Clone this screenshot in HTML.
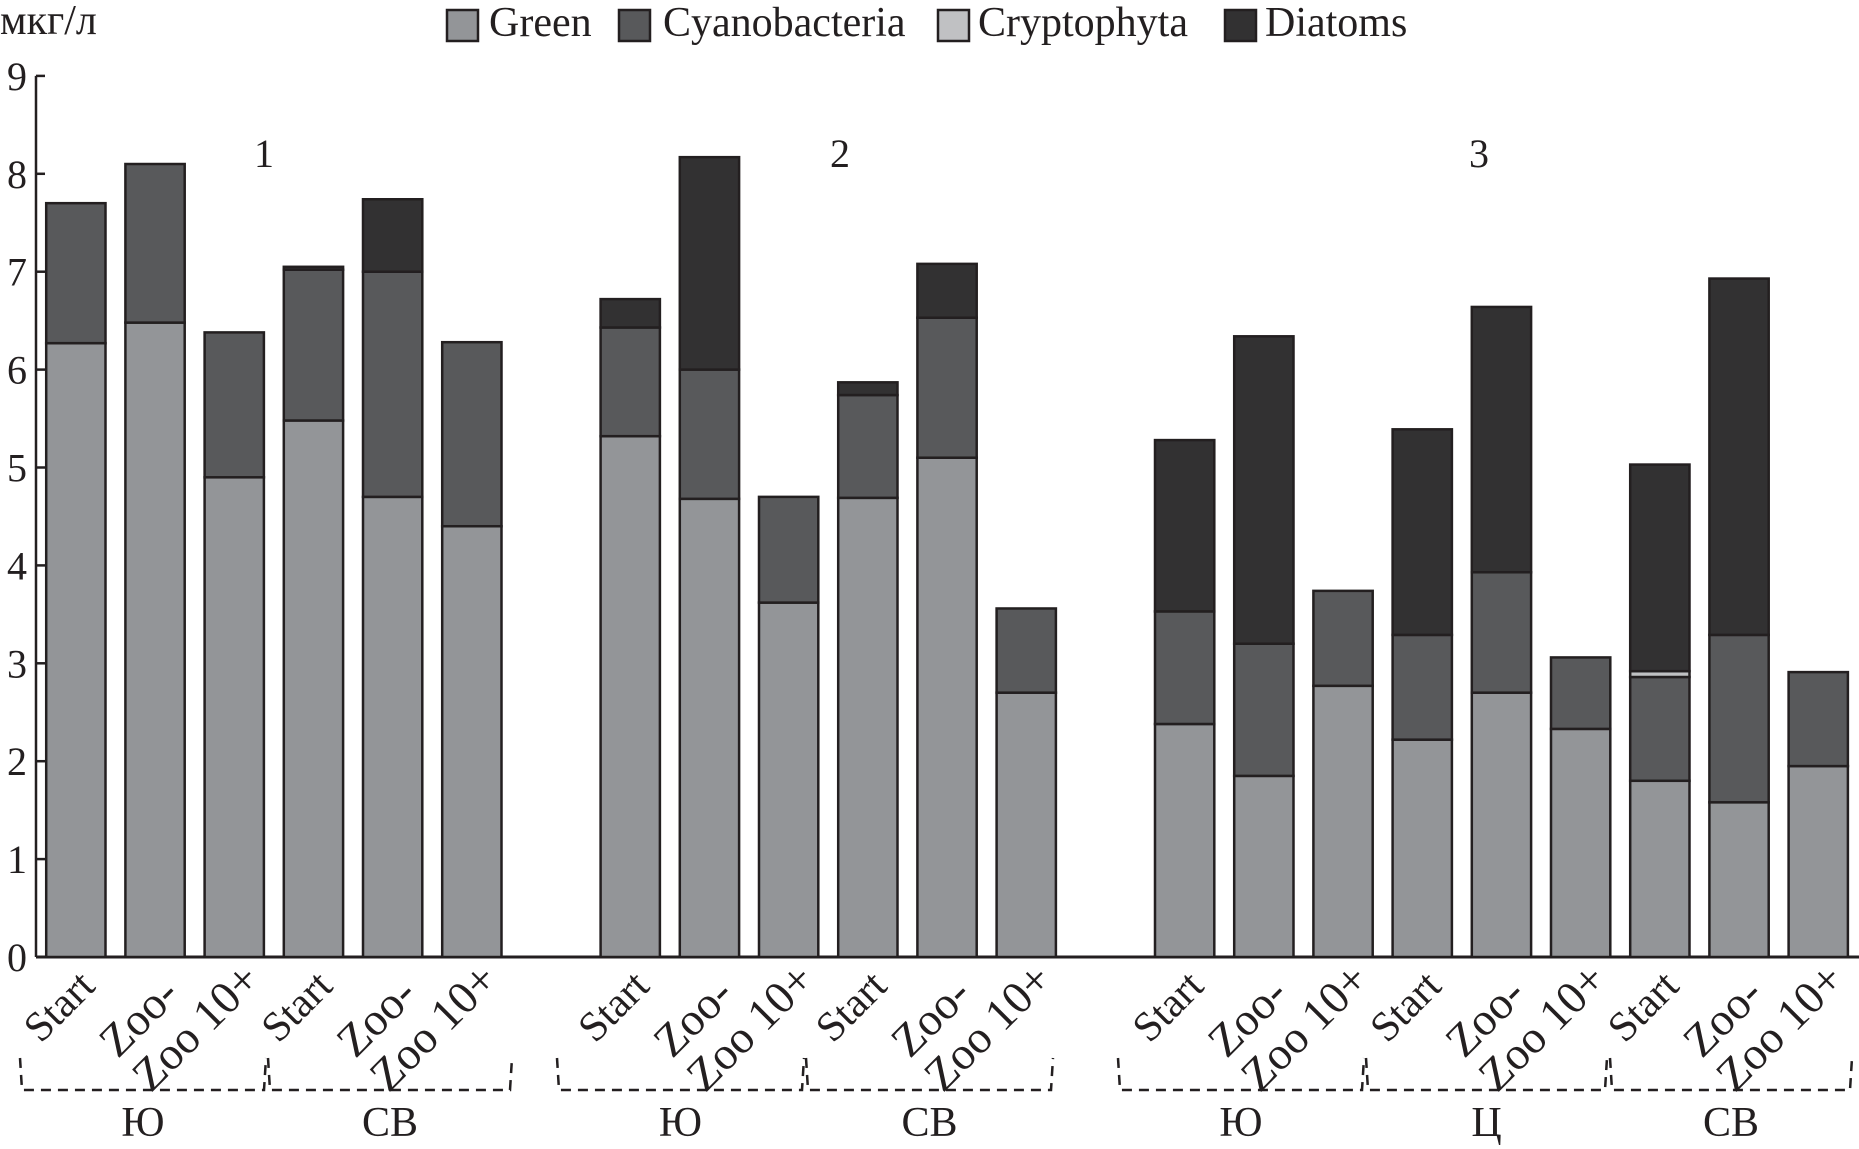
<!DOCTYPE html>
<html><head><meta charset="utf-8"><style>
html,body{margin:0;padding:0;background:#fff;}
svg{display:block;font-family:"Liberation Serif","DejaVu Serif",serif;}
</style></head><body>
<svg id="chart" width="1859" height="1149" viewBox="0 0 1859 1149" xmlns="http://www.w3.org/2000/svg">
<text x="0" y="34" font-size="42" fill="#231f20">мкг/л</text>
<g>
<g><rect x="447" y="10" width="31" height="31" fill="#939598" stroke="#231f20" stroke-width="2.5"/><text x="489" y="36" font-size="42" fill="#231f20">Green</text></g>
<g><rect x="619" y="10" width="31" height="31" fill="#58595b" stroke="#231f20" stroke-width="2.5"/><text x="663" y="36" font-size="42" fill="#231f20">Cyanobacteria</text></g>
<g><rect x="938" y="10" width="31" height="31" fill="#c0c1c3" stroke="#231f20" stroke-width="2.5"/><text x="978" y="36" font-size="42" fill="#231f20">Cryptophyta</text></g>
<g><rect x="1225" y="10" width="31" height="31" fill="#323132" stroke="#231f20" stroke-width="2.5"/><text x="1265" y="36" font-size="42" fill="#231f20">Diatoms</text></g>
</g>
<text x="264" y="167" font-size="40" fill="#231f20" text-anchor="middle">1</text>
<text x="840" y="167" font-size="40" fill="#231f20" text-anchor="middle">2</text>
<text x="1479" y="167" font-size="40" fill="#231f20" text-anchor="middle">3</text>
<g id="axes"></g>
<g id="bars"></g>
<g id="xlabels"></g>
<g id="groups"></g>
</svg>
<script>
const categories = ["Start","Zoo-","Zoo 10+","Start","Zoo-","Zoo 10+","Start","Zoo-","Zoo 10+","Start","Zoo-","Zoo 10+","Start","Zoo-","Zoo 10+","Start","Zoo-","Zoo 10+","Start","Zoo-","Zoo 10+"];
const slots = [0,1,2,3,4,5,7,8,9,10,11,12,14,15,16,17,18,19,20,21,22];
const green = [6.27,6.48,4.9,5.48,4.7,4.4, 5.32,4.68,3.62,4.69,5.1,2.7, 2.38,1.85,2.77,2.22,2.7,2.33,1.8,1.58,1.95];
const cyanobacteria = [1.43,1.62,1.48,1.54,2.3,1.88, 1.11,1.32,1.08,1.05,1.43,0.86, 1.15,1.35,0.97,1.07,1.23,0.73,1.06,1.71,0.96];
const cryptophyta = [0,0,0,0,0,0, 0,0,0,0,0,0, 0,0,0,0,0,0,0.06,0,0];
const diatoms = [0,0,0,0.03,0.74,0, 0.29,2.17,0,0.13,0.55,0, 1.75,3.14,0,2.1,2.71,0,2.11,3.64,0];
const groupLabels = ["Ю","СВ","Ю","СВ","Ю","Ц","СВ"];
const yTicks = [0,1,2,3,4,5,6,7,8,9];

const NS="http://www.w3.org/2000/svg";
const X0=46.2, STEP=79.2, BW=59.3, Y0=957, YS=97.9;
const bracketSpans=[[20,266],[268,512],[557,804],[806,1053],[1118,1364],[1366,1607],[1610,1852]];
function xLeft(slot){return X0+slot*STEP;}
function yPos(v){return Y0-v*YS;}
function mk(tag,attrs,parent){const e=document.createElementNS(NS,tag);for(const k in attrs)e.setAttribute(k,attrs[k]);parent.appendChild(e);return e;}

const axes=document.getElementById('axes');
let l=mk('line',{x1:36,y1:yPos(9),x2:36,y2:Y0,stroke:'#231f20','stroke-width':2.5},axes);


yTicks.forEach(t=>{
  const tk=mk('line',{x1:36,y1:yPos(t),x2:45,y2:yPos(t),stroke:'#231f20','stroke-width':2.5},axes);
  
  
  const tx=mk('text',{x:27,y:yPos(t)+14,'font-size':40,'text-anchor':'end',fill:'#231f20'},axes);
  tx.textContent=String(t);
  
  
});

const bars=document.getElementById('bars');
const series=[["green",green,"#939598"],["cyanobacteria",cyanobacteria,"#58595b"],["cryptophyta",cryptophyta,"#c0c1c3"],["diatoms",diatoms,"#323132"]];
categories.forEach((c,i)=>{
  let base=0;
  const x=xLeft(slots[i]);
  series.forEach(([name,vals,col])=>{
    const v=vals[i];
    if(v<=0)return;
    const r=mk('rect',{x:x,y:yPos(base+v),width:BW,height:v*YS,fill:col,stroke:'#231f20','stroke-width':2.5},bars);
    
    
    base+=v;
  });
});
let bl=mk('line',{x1:36,y1:Y0,x2:1859,y2:Y0,stroke:'#231f20','stroke-width':3},axes);



const xl=document.getElementById('xlabels');
categories.forEach((c,i)=>{
  const cx=xLeft(slots[i])+BW/2;
  let dx=21,y=988,fs=42;
  if(c==="Zoo-"){dx=26;y=996;fs=46;}
  if(c==="Zoo 10+"){dx=28;y=982;fs=46;}
  const t=mk('text',{x:0,y:0,'font-size':fs,'text-anchor':'end',fill:'#231f20',transform:`translate(${cx+dx} ${y}) rotate(-45)`},xl);
  t.textContent=c;
  
  
});

const gg=document.getElementById('groups');
groupLabels.forEach((g,i)=>{
  const [x1,x2]=bracketSpans[i];
  const p=mk('path',{d:`M${x1} 1058 L${x1+2} 1090 L${x2-2} 1090 L${x2} 1058`,fill:'none',stroke:'#231f20','stroke-width':2.5,'stroke-dasharray':'10 7'},gg);
  
  
  const t=mk('text',{x:(x1+x2)/2,y:1136,'font-size':42,'text-anchor':'middle',fill:'#231f20'},gg);
  t.textContent=g;
  
  
});
</script>
</body></html>
